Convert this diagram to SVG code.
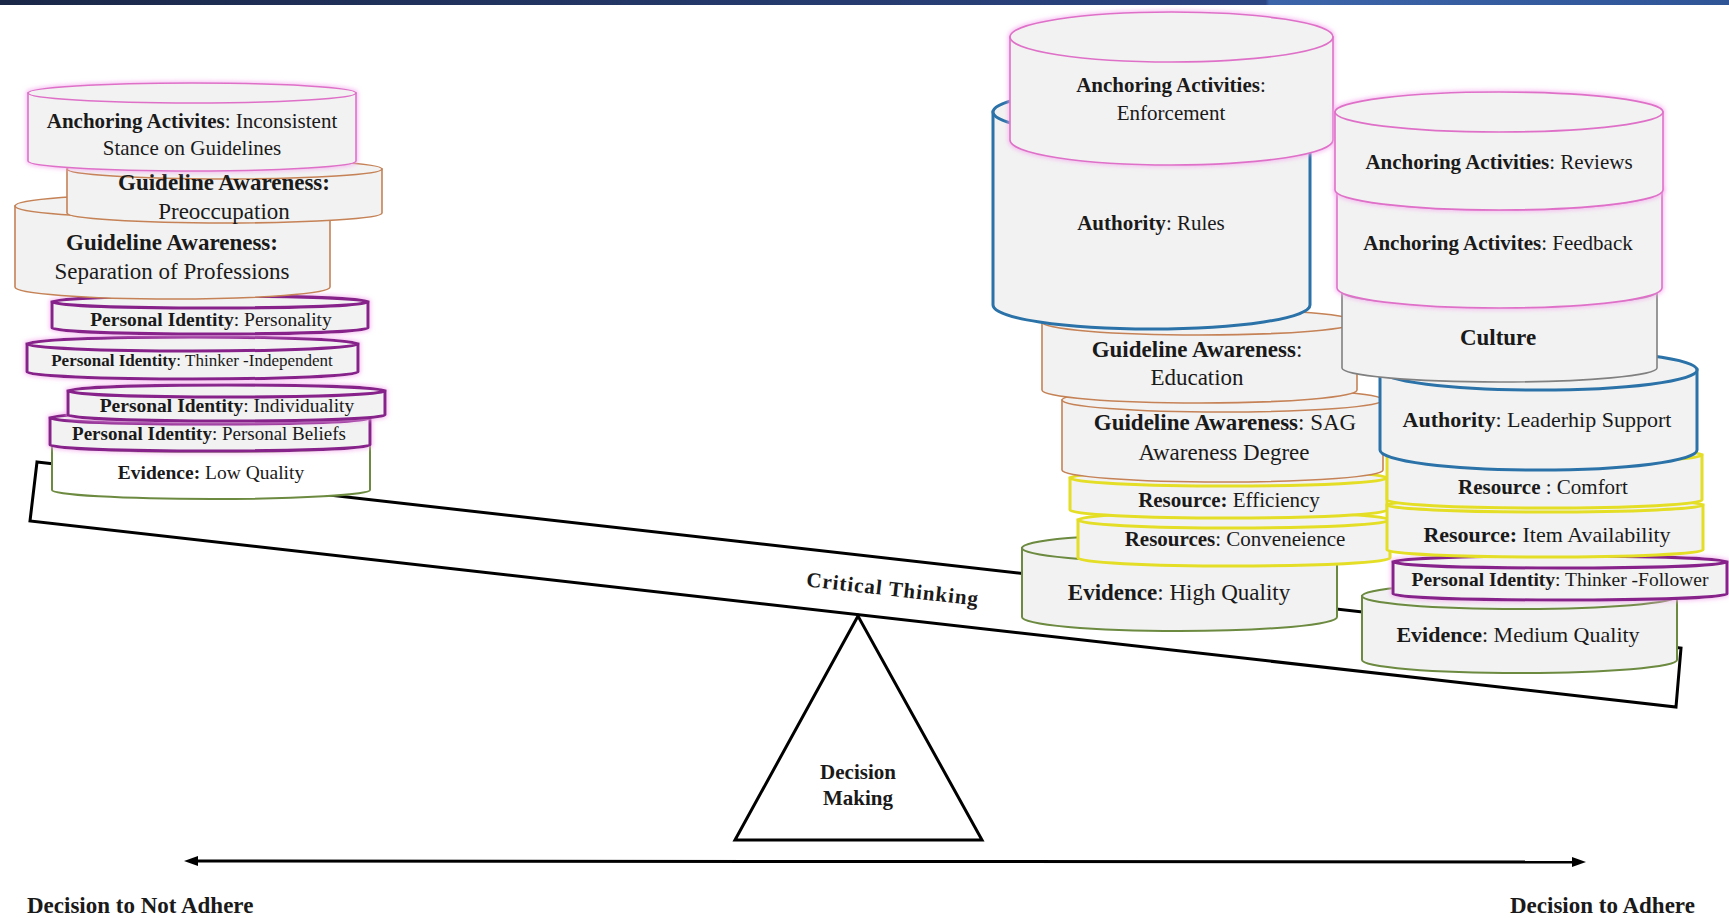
<svg xmlns="http://www.w3.org/2000/svg" width="1729" height="918" viewBox="0 0 1729 918">
<defs>
<linearGradient id="bar" x1="0" y1="0" x2="1" y2="0">
<stop offset="0" stop-color="#1a2747"/>
<stop offset="0.732" stop-color="#2c4684"/>
<stop offset="0.734" stop-color="#3c64a8"/>
<stop offset="1" stop-color="#2f5597"/>
</linearGradient>
<filter id="glowPink" x="-10%" y="-30%" width="120%" height="160%">
<feMorphology in="SourceAlpha" operator="dilate" radius="1" result="d"/>
<feGaussianBlur in="d" stdDeviation="2" result="b"/>
<feFlood flood-color="#f4a8ee" flood-opacity="0.75"/>
<feComposite in2="b" operator="in" result="g"/>
<feMerge><feMergeNode in="g"/><feMergeNode in="SourceGraphic"/></feMerge>
</filter>
<marker id="ah" viewBox="0 0 14 10" refX="1" refY="5" markerWidth="14" markerHeight="10" markerUnits="userSpaceOnUse" orient="auto-start-reverse">
<path d="M0,0 L14,5 L0,10 Z" fill="#000"/>
</marker>
</defs>
<style>
text{font-family:"Liberation Serif","Times New Roman",serif;fill:#1a1a1a;text-anchor:middle;stroke:none}
.b{font-weight:bold}
.cyl path,.cyl ellipse{fill:#f2f2f2}
.pink{stroke:#df70c8;stroke-width:1.6}
.orange{stroke:#c58256;stroke-width:1.6}
.purple{stroke:#86208a;stroke-width:3}
.blue{stroke:#2a72a8;stroke-width:3}
.yellow{stroke:#e4de26;stroke-width:3}
.green{stroke:#6c8a40;stroke-width:2}
.gray{stroke:#808080;stroke-width:1.6}
.white path,.white ellipse{fill:#ffffff}
.glow{filter:url(#glowPink)}
.edge{fill:#ffffff;stroke:#000;stroke-width:3;stroke-linejoin:miter}
</style>
<rect x="0" y="0" width="1729" height="918" fill="#ffffff"/>
<rect x="0" y="0" width="1729" height="5" fill="url(#bar)"/>

<g id="beam">
<polygon class="edge" points="37,462 1681,648 1676,707 30,521"/>
</g>
<g id="fulcrum">
<polygon class="edge" points="858,616 735,840 982,840"/>
<text class="b" x="858" y="779" font-size="21">Decision</text>
<text class="b" x="858" y="805" font-size="21">Making</text>
</g>

<!-- Left stack -->
<g id="n-evidence-low" class="cyl green white">
<g><path d="M52,444 V490 A159,9 0 0 0 370,490 V444 Z"/><ellipse cx="211" cy="444" rx="159" ry="8"/></g>
<text x="211" y="479" font-size="19.5"><tspan class="b">Evidence:</tspan> Low Quality</text>
</g>
<g id="n-pi-beliefs" class="cyl purple">
<g class="glow"><path d="M50,418 V445 A160,6 0 0 0 370,445 V418 Z"/><ellipse cx="210" cy="418" rx="160" ry="6"/></g>
<text x="209" y="440" font-size="19"><tspan class="b">Personal Identity</tspan>: Personal Beliefs</text>
</g>
<g id="n-pi-individuality" class="cyl purple">
<g class="glow"><path d="M68,391 V415 A158.5,6 0 0 0 385,415 V391 Z"/><ellipse cx="226.5" cy="391" rx="158.5" ry="6"/></g>
<text x="227" y="412" font-size="19.5"><tspan class="b">Personal Identity</tspan>: Individuality</text>
</g>
<g id="n-pi-independent" class="cyl purple">
<g class="glow"><path d="M27,344 V372 A165.5,7 0 0 0 358,372 V344 Z"/><ellipse cx="192.5" cy="344" rx="165.5" ry="7"/></g>
<text x="192" y="366" font-size="17"><tspan class="b">Personal Identity</tspan>: Thinker -Independent</text>
</g>
<g id="n-pi-personality" class="cyl purple">
<g class="glow"><path d="M52,302 V328 A158,6 0 0 0 368,328 V302 Z"/><ellipse cx="210" cy="302" rx="158" ry="6"/></g>
<text x="211" y="326" font-size="19.5"><tspan class="b">Personal Identity</tspan>: Personality</text>
</g>
<g id="n-ga-separation" class="cyl orange">
<g><path d="M15,206 V287 A157.5,12 0 0 0 330,287 V206 Z"/><ellipse cx="172.5" cy="206" rx="157.5" ry="12"/></g>
<text x="172" y="250" font-size="23"><tspan class="b">Guideline Awareness:</tspan></text>
<text x="172" y="279" font-size="23">Separation of Professions</text>
</g>
<g id="n-ga-preoccupation" class="cyl orange">
<g><path d="M67,169 V213 A157.5,10 0 0 0 382,213 V169 Z"/><ellipse cx="224.5" cy="169" rx="157.5" ry="10"/></g>
<text x="224" y="190" font-size="23"><tspan class="b">Guideline Awareness:</tspan></text>
<text x="224" y="219" font-size="23">Preoccupation</text>
</g>
<g id="n-aa-inconsistent" class="cyl pink">
<g class="glow"><path d="M28,93 V161 A164,10 0 0 0 356,161 V93 Z"/><ellipse cx="192" cy="93" rx="164" ry="10"/></g>
<text x="192" y="128" font-size="21"><tspan class="b">Anchoring Activites</tspan>: Inconsistent</text>
<text x="192" y="155" font-size="21">Stance on Guidelines</text>
</g>

<!-- Right stack, column 1 -->
<g id="n-evidence-high" class="cyl green">
<g><path d="M1022,548 V617 A157.5,14 0 0 0 1337,617 V548 Z"/><ellipse cx="1179.5" cy="548" rx="157.5" ry="14"/></g>
<text x="1179" y="600" font-size="23"><tspan class="b">Evidence</tspan>: High Quality</text>
</g>
<g id="n-res-convenience" class="cyl yellow">
<g><path d="M1078,520 V558 A156,8 0 0 0 1390,558 V520 Z"/><ellipse cx="1234" cy="520" rx="156" ry="8"/></g>
<text x="1235" y="546" font-size="21"><tspan class="b">Resources</tspan>: Conveneience</text>
</g>
<g id="n-res-efficiency" class="cyl yellow">
<g><path d="M1070,478 V510 A158.5,8 0 0 0 1387,510 V478 Z"/><ellipse cx="1228.5" cy="478" rx="158.5" ry="8"/></g>
<text x="1229" y="507" font-size="21"><tspan class="b">Resource:</tspan> Efficiency</text>
</g>
<g id="n-ga-sag" class="cyl orange">
<g><path d="M1062,400 V470 A160.5,12 0 0 0 1383,470 V400 Z"/><ellipse cx="1222.5" cy="400" rx="160.5" ry="12"/></g>
<text x="1225" y="430" font-size="23"><tspan class="b">Guideline Awareness</tspan>: SAG</text>
<text x="1224" y="460" font-size="23">Awareness Degree</text>
</g>
<g id="n-ga-education" class="cyl orange">
<g><path d="M1042,322 V390 A157.5,13 0 0 0 1357,390 V322 Z"/><ellipse cx="1199.5" cy="322" rx="157.5" ry="13"/></g>
<text x="1197" y="357" font-size="23"><tspan class="b">Guideline Awareness</tspan>:</text>
<text x="1197" y="385" font-size="23">Education</text>
</g>
<g id="n-auth-rules" class="cyl blue">
<g><path d="M993,112 V305 A158.5,24 0 0 0 1310,305 V112 Z"/><ellipse cx="1151.5" cy="112" rx="158.5" ry="24"/></g>
<text x="1151" y="230" font-size="21"><tspan class="b">Authority</tspan>: Rules</text>
</g>
<g id="n-aa-enforcement" class="cyl pink">
<g class="glow"><path d="M1010,37 V140 A161.5,25 0 0 0 1333,140 V37 Z"/><ellipse cx="1171.5" cy="37" rx="161.5" ry="25"/></g>
<text x="1171" y="92" font-size="21"><tspan class="b">Anchoring Activities</tspan>:</text>
<text x="1171" y="120" font-size="21">Enforcement</text>
</g>

<!-- Right stack, column 2 -->
<g id="n-evidence-medium" class="cyl green">
<g><path d="M1362,596 V660 A157.5,13 0 0 0 1677,660 V596 Z"/><ellipse cx="1519.5" cy="596" rx="157.5" ry="13"/></g>
<text x="1518" y="642" font-size="22"><tspan class="b">Evidence</tspan>: Medium Quality</text>
</g>
<g id="n-pi-follower" class="cyl purple">
<g class="glow"><path d="M1393,562 V594 A167,6 0 0 0 1727,594 V562 Z"/><ellipse cx="1560" cy="562" rx="167" ry="6"/></g>
<text x="1560" y="586" font-size="19.5"><tspan class="b">Personal Identity</tspan>: Thinker -Follower</text>
</g>
<g id="n-res-item" class="cyl yellow">
<g><path d="M1387,505 V550 A158,7 0 0 0 1703,550 V505 Z"/><ellipse cx="1545" cy="505" rx="158" ry="7"/></g>
<text x="1547" y="542" font-size="22"><tspan class="b">Resource:</tspan> Item Availability</text>
</g>
<g id="n-res-comfort" class="cyl yellow">
<g><path d="M1387,455 V500 A157.5,8 0 0 0 1702,500 V455 Z"/><ellipse cx="1544.5" cy="455" rx="157.5" ry="8"/></g>
<text x="1543" y="494" font-size="21"><tspan class="b">Resource</tspan> : Comfort</text>
</g>
<g id="n-auth-leadership" class="cyl blue">
<g><path d="M1380,370 V450 A158.5,20 0 0 0 1697,450 V370 Z"/><ellipse cx="1538.5" cy="370" rx="158.5" ry="20"/></g>
<text x="1537" y="427" font-size="22"><tspan class="b">Authority</tspan>: Leaderhip Support</text>
</g>
<g id="n-culture" class="cyl gray">
<g><path d="M1342,292 V368 A157.5,14 0 0 0 1657,368 V292 Z"/><ellipse cx="1499.5" cy="292" rx="157.5" ry="14"/></g>
<text class="b" x="1498" y="345" font-size="23">Culture</text>
</g>
<g id="n-aa-feedback" class="cyl pink">
<g class="glow"><path d="M1337,190 V288 A162.5,20 0 0 0 1662,288 V190 Z"/><ellipse cx="1499.5" cy="190" rx="162.5" ry="20"/></g>
<text x="1498" y="250" font-size="21"><tspan class="b">Anchoring Activites</tspan>: Feedback</text>
</g>
<g id="n-aa-reviews" class="cyl pink">
<g class="glow"><path d="M1335,112 V190 A164,20 0 0 0 1663,190 V112 Z"/><ellipse cx="1499" cy="112" rx="164" ry="20"/></g>
<text x="1499" y="169" font-size="21"><tspan class="b">Anchoring Activities</tspan>: Reviews</text>
</g>

<g id="beam-label">
<text class="b" x="892" y="596" font-size="21" letter-spacing="1" transform="rotate(6.45 892 596)">Critical Thinking</text>
</g>

<g id="connectors">
<line x1="197" y1="861" x2="1573" y2="862" stroke="#000" stroke-width="3" marker-start="url(#ah)" marker-end="url(#ah)"/>
</g>
<g id="axis-labels">
<text class="b" x="27" y="913" font-size="23" style="text-anchor:start">Decision to Not Adhere</text>
<text class="b" x="1510" y="913" font-size="23" style="text-anchor:start">Decision to Adhere</text>
</g>
</svg>
